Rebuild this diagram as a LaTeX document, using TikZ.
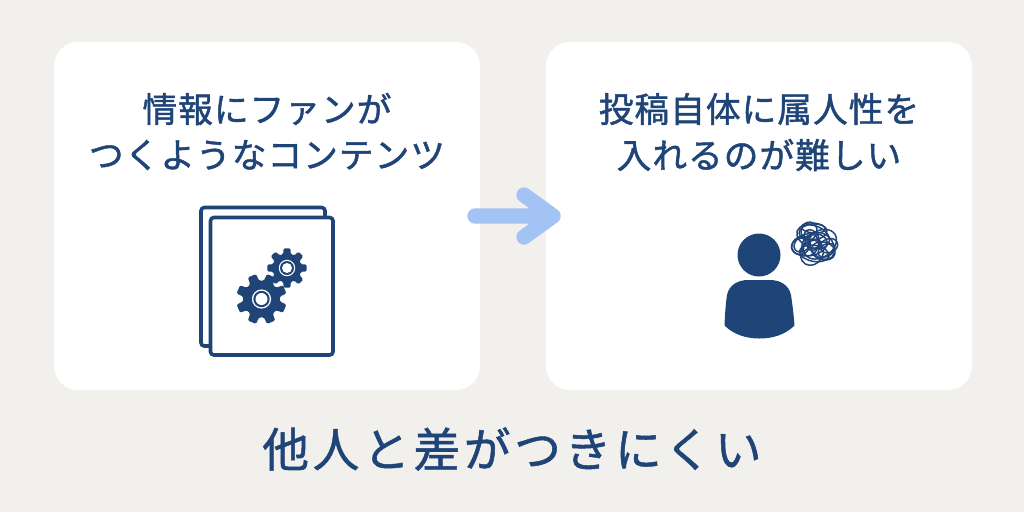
\documentclass[tikz,border=0pt]{standalone}
\usepackage{fontspec}
\newfontfamily\jpfont{Noto Sans CJK JP}[Renderer=HarfBuzz,FakeBold=1.3]
\newfontfamily\jpbig{Noto Sans CJK JP}[Renderer=HarfBuzz,FakeBold=1.1]
\usetikzlibrary{calc}
\definecolor{bg}{HTML}{F2F0ED}
\definecolor{navy}{HTML}{1F4477}
\definecolor{sky}{HTML}{A4C3F5}
\tikzset{
  card/.style={fill=white,rounded corners=18pt,draw=none,minimum width=319.5pt,minimum height=261pt,inner sep=0pt},
  headline/.style={text=navy,font=\jpfont\fontsize{26pt}{26pt}\selectfont,inner sep=0pt,anchor=center},
  bottomline/.style={text=navy,font=\jpbig\fontsize{35pt}{35pt}\selectfont,inner sep=0pt,anchor=center},
  sheet/.style={draw=navy,line width=2.7pt,fill=white,rounded corners=2.5pt},
  scrib/.style={draw=navy,line width=1.1pt},
}
% gear: #1 centre, #2 outer radius, #3 root radius, #4 phase
\newcommand{\gearshape}[4]{%
  \fill[navy,rounded corners=1pt]
  \foreach \k [evaluate=\k as \a using #4+\k*45] in {0,...,7}{
    {\ifnum\k=0 ($(#1)+(\a-15:#3)$)\else -- ($(#1)+(\a-15:#3)$)\fi}
    -- ($(#1)+(\a-10:#2)$) -- ($(#1)+(\a+10:#2)$) -- ($(#1)+(\a+15:#3)$)
  } -- cycle;
}
\begin{document}
\begin{tikzpicture}[x=0.75pt,y=-0.75pt]
\useasboundingbox (0,0) rectangle (1024,512);
\fill[bg] (0,0) rectangle (1024,512);
\node[card] (left) at (267,216) {};
\node[card] (right) at (759,216) {};
% arrow
\coordinate (as) at (475,216);
\coordinate (ap) at (553,216);
\coordinate (au) at (524,195);
\coordinate (ad) at (524,237);
\draw[sky,line width=11.5pt,line cap=round,line join=round] (as) -- (ap) (au) -- (ap) -- (ad);
% texts
\node[headline] (t1) at (267,109) {\addfontfeature{LetterSpace=3}情報にファンが};
\node[headline] (t2) at (267,155) {\addfontfeature{LetterSpace=3}つくようなコンテンツ};
\node[headline] (t3) at (759,109) {\addfontfeature{LetterSpace=3}投稿自体に属人性を};
\node[headline] (t4) at (759,155) {\addfontfeature{LetterSpace=3}入れるのが難しい};
\node[bottomline] (t5) at (512,449) {\addfontfeature{LetterSpace=8}他人と差がつきにくい};
% documents
\draw[sheet] (201,207.5) rectangle (325,346);
\draw[sheet] (210.5,217.5) rectangle (333,355);
% gears
\coordinate (g1) at (261.5,299);
\coordinate (g2) at (287,268);
\gearshape{g2}{20}{14.5}{0}
\fill[white] (g2) circle[radius=8.2*0.75pt];
\fill[navy] (g2) circle[radius=7*0.75pt];
\fill[white] (g2) circle[radius=5*0.75pt];
\gearshape{g1}{25.5}{18.5}{22.5}
\fill[white] (g1) circle[radius=9.6*0.75pt];
\fill[navy] (g1) circle[radius=8.2*0.75pt];
\fill[white] (g1) circle[radius=6*0.75pt];
% person
\coordinate (head) at (759,255);
\fill[navy] (head) circle[radius=21.5*0.75pt];
\fill[navy] (724.5,325.5) .. controls (725,312) and (726,302) .. (727,295)
  .. controls (729,285) and (738,280) .. (748,280) -- (770,280)
  .. controls (780,280) and (789,285) .. (791,295)
  .. controls (792,302) and (793.5,312) .. (794.5,325.5)
  .. controls (785,335) and (772,338.5) .. (759.5,338.5)
  .. controls (747,338.5) and (734,335) .. (724.5,325.5) -- cycle;
% scribble
\coordinate (sc) at (813,243);
\foreach \dx/\dy/\rx/\ry/\r in {
 -4/1/18/11/10, -2/-6/17/11/-20, 5/5/18/13/35, -9/4/13/11/60, 8/-5/15/11/-50,
 -13/0/9/8/15, 12/5/12/9/-15, 1/-11/14/8/5, 3/10/15/8/-10, -3/-2/11/8/70,
 4/1/10/7/120, 0/2/7/5/30, -9/-6/9/7/40, 11/-6/9/8/80, 14/8/9/7/20,
 -1/-15/12/5/-5, 8/13/9/6/30}{
  \draw[scrib,rotate around={\r:($(sc)+(\dx,\dy)$)}] ($(sc)+(\dx,\dy)$) ellipse[x radius=\rx*0.75pt,y radius=\ry*0.75pt];
}
\end{tikzpicture}
\end{document}
